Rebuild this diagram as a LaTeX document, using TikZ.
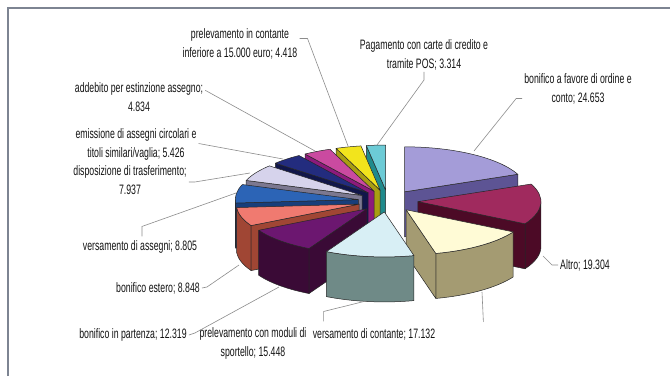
\documentclass[tikz,border=0pt]{standalone}
\usepackage{fontspec}
\setmainfont{Liberation Sans}[FakeStretch=0.64]
\definecolor{cLav}{HTML}{A49CD8}\definecolor{sLav}{HTML}{5D5494}
\definecolor{cMar}{HTML}{A02A5E}\definecolor{sMar}{HTML}{4C0A26}
\definecolor{cLYe}{HTML}{FFFBD6}\definecolor{sLYe}{HTML}{A49B72}
\definecolor{cCya}{HTML}{D8EFF5}\definecolor{sCya}{HTML}{6F8A87}
\definecolor{cPur}{HTML}{6C1770}\definecolor{sPur}{HTML}{3A0A36}
\definecolor{cSal}{HTML}{F07A70}\definecolor{sSal}{HTML}{A04634}
\definecolor{cBlu}{HTML}{2C64B6}\definecolor{sBlu}{HTML}{183E7A}
\definecolor{cLLa}{HTML}{D6D3EC}\definecolor{sLLa}{HTML}{7C7890}
\definecolor{cNav}{HTML}{232C7E}\definecolor{sNav}{HTML}{11164A}
\definecolor{cMag}{HTML}{CA4AA0}\definecolor{sMag}{HTML}{8C1A7C}
\definecolor{cYel}{HTML}{F2E41C}\definecolor{sYel}{HTML}{A89E12}
\definecolor{cTea}{HTML}{6CCBD6}\definecolor{sTea}{HTML}{1F8A8C}
\definecolor{frameg}{HTML}{7D8492}
\def\cx{388}\def\cy{201}\def\rx{123}\def\ry{45}\def\hh{45}\def\ex{30}\def\ey{11}
\newcommand\drawslice[5]{%
 \pgfmathsetmacro\ta{90-(#2)}%
 \pgfmathsetmacro\tb{90-(#1)}%
 \pgfmathsetmacro\nta{(#2)-90}%
 \pgfmathsetmacro\ntb{(#1)-90}%
 \pgfmathsetmacro\tm{(\ta+\tb)/2}%
 \pgfmathsetmacro\ox{\cx+\ex*cos(\tm)}%
 \pgfmathsetmacro\oy{\cy-\ey*sin(\tm)}%
 \coordinate (#5) at (\ox,\oy);
 \pgfmathsetmacro\xa{\ox+\rx*cos(\ta)}%
 \pgfmathsetmacro\ya{\oy-\ry*sin(\ta)}%
 \pgfmathsetmacro\xb{\ox+\rx*cos(\tb)}%
 \pgfmathsetmacro\yb{\oy-\ry*sin(\tb)}%
 \pgfmathsetmacro\fa{max(\ta,-180)}%
 \pgfmathsetmacro\fb{min(\tb,0)}%
 \pgfmathsetmacro\nfa{-\fa}%
 \pgfmathsetmacro\nfb{-\fb}%
 \pgfmathtruncatemacro\vo{\fa<\fb}%
 \ifnum\vo=1
   \pgfmathsetmacro\xfa{\ox+\rx*cos(\fa)}%
   \pgfmathsetmacro\yfa{\oy-\ry*sin(\fa)}%
   \filldraw[face,fill=#4] (\xfa,\yfa) arc[start angle=\nfa,end angle=\nfb,x radius=\rx,y radius=\ry] -- ++(0,\hh) arc[start angle=\nfb,end angle=\nfa,x radius=\rx,y radius=\ry] -- cycle;
 \fi
 \pgfmathtruncatemacro\va{cos(\ta)>0.001}%
 \ifnum\va=1
   \filldraw[face,fill=#4] (\ox,\oy) -- (\xa,\ya) -- ++(0,\hh) -- (\ox,\oy+\hh) -- cycle;
 \fi
 \pgfmathtruncatemacro\vb{cos(\tb)<-0.001}%
 \ifnum\vb=1
   \filldraw[face,fill=#4] (\ox,\oy) -- (\xb,\yb) -- ++(0,\hh) -- (\ox,\oy+\hh) -- cycle;
 \fi
 \filldraw[face,fill=#3] (\ox,\oy) -- (\xa,\ya) arc[start angle=\nta,end angle=\ntb,x radius=\rx,y radius=\ry] -- cycle;
}
\begin{document}
\begin{tikzpicture}[x=1bp,y=-1bp,
  face/.style={draw=black!85,line width=0.5bp,line join=round},
  lbl/.style={inner sep=0pt,align=center,font=\fontsize{13.7}{19}\selectfont,text=black!92},
  lead/.style={draw=black!45,line width=0.6bp}]
\useasboundingbox (0,0) rectangle (670,376);
\fill[white] (0,0) rectangle (670,376);
\draw[frameg,line width=1.2bp] (8,376) -- (8,8) -- (670,8);
% slices, back to front
\drawslice{350.991}{360}{cTea}{sTea}{oTea}
\drawslice{338.982}{350.991}{cYel}{sYel}{oYel}
\drawslice{325.842}{338.982}{cMag}{sMag}{oMag}
\drawslice{0}{67.013}{cLav}{sLav}{oLav}
\drawslice{311.093}{325.842}{cNav}{sNav}{oNav}
\drawslice{289.518}{311.093}{cLLa}{sLLa}{oLLa}
\drawslice{265.584}{289.518}{cBlu}{sBlu}{oBlu}
\drawslice{67.013}{119.486}{cMar}{sMar}{oMar}
\drawslice{241.533}{265.584}{cSal}{sSal}{oSal}
\drawslice{208.047}{241.533}{cPur}{sPur}{oPur}
\drawslice{119.486}{166.055}{cLYe}{sLYe}{oLYe}
\drawslice{166.055}{208.047}{cCya}{sCya}{oCya}
% labels
\node[lbl] (lPrelC) at (240,43.5) {prelevamento in contante\\inferiore a 15.000 euro; 4.418};
\node[lbl] (lPag) at (424,54.5) {Pagamento con carte di credito e\\tramite POS; 3.314};
\node[lbl] (lBonFav) at (578,88.5) {bonifico a favore di ordine e\\conto; 24.653};
\node[lbl] (lAdd) at (139,97) {addebito per estinzione assegno;\\4.834};
\node[lbl] (lEmis) at (136,144.5) {emissione di assegni circolari e\\titoli similari/vaglia; 5.426};
\node[lbl] (lDisp) at (130,180) {disposizione di trasferimento;\\7.937};
\node[lbl] (lVersAss) at (140,247) {versamento di assegni; 8.805};
\node[lbl] (lBonEst) at (158,288) {bonifico estero; 8.848};
\node[lbl] (lAltro) at (585,265) {Altro; 19.304};
\node[lbl] (lBonPart) at (133,335) {bonifico in partenza; 12.319};
\node[lbl] (lPrelMod) at (253,343.5) {prelevamento con moduli di\\sportello; 15.448};
\node[lbl] (lVersCont) at (374,334) {versamento di contante; 17.132};
% leader end points
\coordinate (pPrelC) at (348,146);
\coordinate (pPag) at (377,145);
\coordinate (pBonFav) at (474,151);
\coordinate (pAdd) at (315,151);
\coordinate (pEmis) at (283,159);
\coordinate (pDisp) at (250,173);
\coordinate (pVersAss) at (236,193);
\coordinate (pBonEst) at (239,265);
\coordinate (pAltro) at (543,256);
\coordinate (pBonPart) at (279,287);
\coordinate (pPrelMod) at (366,301);
\coordinate (pVersCont) at (482,292);
% leaders
\draw[lead] (lPrelC.east) ++(2,-5) -- ++(8,0) -- (pPrelC);
\draw[lead] (lPag.south) ++(0,2) -- ++(0,8) -- (pPag);
\draw[lead] (lBonFav.west) ++(-2,10) -- ++(-6,0) -- (pBonFav);
\draw[lead] (lAdd.north east) ++(2,8) -- (pAdd);
\draw[lead] (lEmis.east) ++(2,-1) -- (pEmis);
\draw[lead] (lDisp.east) ++(2,2) -- ++(6,0) -- (pDisp);
\draw[lead] (lVersAss.north) ++(2,-4) -- ++(0,-10) -- (pVersAss);
\draw[lead] (lBonEst.east) ++(2,0) -- ++(5,-1) -- (pBonEst);
\draw[lead] (lAltro.west) ++(-2,0) -- ++(-6,0) -- (pAltro);
\draw[lead] (lBonPart.east) ++(2,0) -- ++(6,-2) -- (pBonPart);
\draw[lead] (lPrelMod.north east) ++(17,-6) -- ++(0,-10) -- (pPrelMod);
\draw[lead] (lVersCont.north east) ++(48,-6) -- (pVersCont);
\end{tikzpicture}
\end{document}
